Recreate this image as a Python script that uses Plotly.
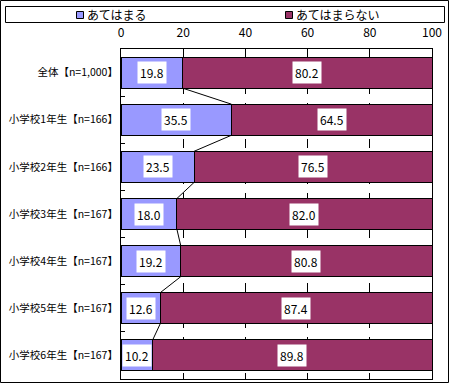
import plotly.graph_objects as go

categories = ["全体【n=1,000】", "小学校1年生【n=166】", "小学校2年生【n=166】",
              "小学校3年生【n=167】", "小学校4年生【n=167】", "小学校5年生【n=167】",
              "小学校6年生【n=167】"]
applies = [19.8, 35.5, 23.5, 18.0, 19.2, 12.6, 10.2]
not_applies = [80.2, 64.5, 76.5, 82.0, 80.8, 87.4, 89.8]
series_names = ["あてはまる", "あてはまらない"]
x_ticks = [0, 20, 40, 60, 80, 100]

BLUE = "#9999FF"
RED = "#993366"
FONT = "Noto Sans CJK JP"
W = 0.66

# pixel layout
PW, PH = 450, 384
L, R, T, B = 121, 18, 49, 5
pw = PW - L - R
ph = PH - T - B


def px_x(px):
    return (px - L) / pw


def px_y(py):
    return (PH - B - py) / ph


idx = list(range(len(categories)))

fig = go.Figure()
fig.add_trace(go.Bar(y=idx, x=applies, orientation="h", width=W, name=series_names[0],
                     marker=dict(color=BLUE, line=dict(color="black", width=1)),
                     showlegend=False))
fig.add_trace(go.Bar(y=idx, x=not_applies, orientation="h", width=W, name=series_names[1],
                     marker=dict(color=RED, line=dict(color="black", width=1)),
                     showlegend=False))

# series lines
sx, sy = [], []
for i in range(len(applies) - 1):
    sx += [applies[i], applies[i + 1], None]
    sy += [i + W / 2, i + 1 - W / 2, None]
fig.add_trace(go.Scatter(x=sx, y=sy, mode="lines", line=dict(color="black", width=1),
                         showlegend=False, hoverinfo="skip"))

annotations = []
for i in idx:
    a, n = applies[i], not_applies[i]
    annotations.append(dict(x=a / 2, y=i, text=f"{a:.1f}", showarrow=False,
                            bgcolor="white", borderpad=2,
                            font=dict(family=FONT, size=12, color="black")))
    annotations.append(dict(x=a + n / 2, y=i, text=f"{n:.1f}", showarrow=False,
                            bgcolor="white", borderpad=2,
                            font=dict(family=FONT, size=12, color="black")))

# legend (manual)
shapes = [
    dict(type="rect", xref="paper", yref="paper",
         x0=px_x(0.5), x1=px_x(448.5), y0=px_y(382.5), y1=px_y(0.5),
         line=dict(color="black", width=1), fillcolor="rgba(0,0,0,0)", layer="below"),
    dict(type="rect", xref="paper", yref="paper",
         x0=px_x(5.5), x1=px_x(444.5), y0=px_y(22.5), y1=px_y(6.5),
         line=dict(color="black", width=1), fillcolor="white"),
]
legend_items = [(series_names[0], BLUE, 76), (series_names[1], RED, 285)]
for name, col, x0 in legend_items:
    shapes.append(dict(type="rect", xref="paper", yref="paper",
                       x0=px_x(x0 + 0.5), x1=px_x(x0 + 7.5), y0=px_y(18.5), y1=px_y(11.5),
                       line=dict(color="black", width=1), fillcolor=col))
    annotations.append(dict(xref="paper", yref="paper", x=px_x(x0 + 9), y=px_y(14.5),
                            text=name, showarrow=False, xanchor="left", yanchor="middle",
                            font=dict(family=FONT, size=12, color="black")))

fig.update_layout(
    width=PW, height=PH,
    margin=dict(l=L, r=R, t=T, b=B, autoexpand=False),
    barmode="stack",
    paper_bgcolor="white", plot_bgcolor="white",
    font=dict(family=FONT, size=12, color="black"),
    annotations=annotations,
    shapes=shapes,
    xaxis=dict(side="top", range=[0, 100], tickvals=x_ticks, ticks="",
               showgrid=True, gridcolor="black", griddash="dash", gridwidth=1,
               showline=True, mirror=True, linecolor="black", linewidth=1,
               zeroline=False, fixedrange=True, automargin=False,
               ticklabelstandoff=6,
               tickfont=dict(family=FONT, size=12, color="black")),
    yaxis=dict(range=[len(categories) - 0.5, -0.5], tickvals=idx, ticktext=categories,
               ticks="", showgrid=False, zeroline=False, automargin=False,
               showline=True, mirror=True, linecolor="black", linewidth=1,
               fixedrange=True,
               minor=dict(tickmode="array", tickvals=[i + 0.5 for i in idx[:-1]],
                          ticks="inside", ticklen=4, tickcolor="black", showgrid=False),
               tickfont=dict(family=FONT, size=10.5, color="black")),
    showlegend=False,
)

fig.write_html("out.html", config={"displayModeBar": False},
               post_script="document.body.style.margin='0';")
